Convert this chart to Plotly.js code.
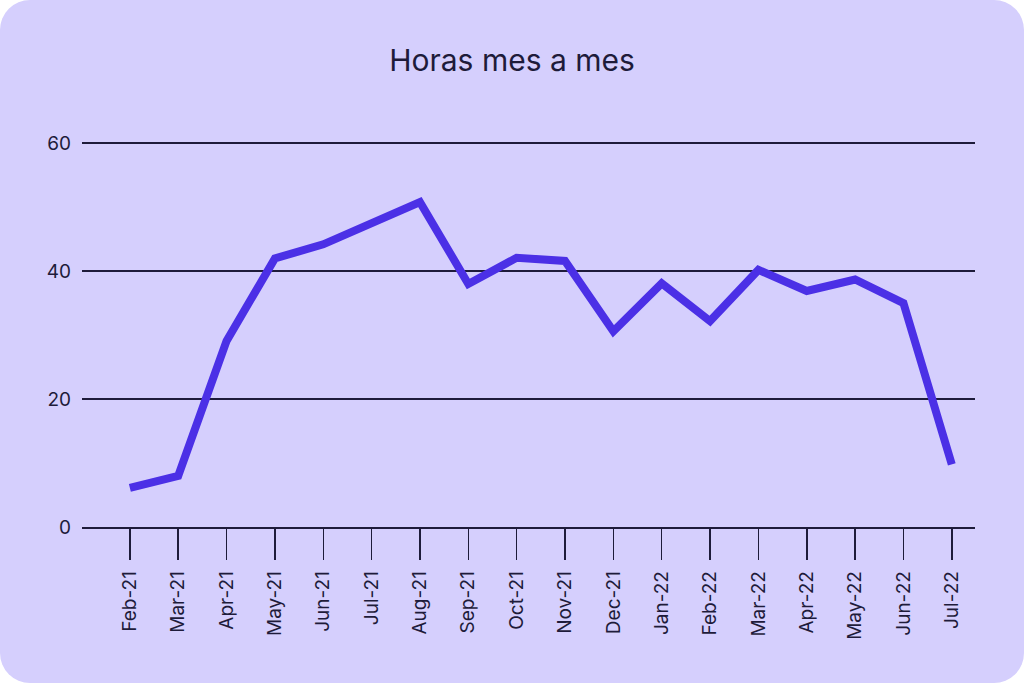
<!DOCTYPE html>
<html>
<head>
<meta charset="utf-8">
<script src="https://cdn.plot.ly/plotly-3.0.1.min.js"></script>
<style>
  html, body { margin:0; padding:0; background:#ffffff; }
  #wrap { width:1024px; height:683px; border-radius:30px; overflow:hidden; background:#d5cffd; }
  #chart { width:1024px; height:683px; }
</style>
</head>
<body>
<div id="wrap"><div id="chart"></div></div>
<script>
const months = ["Feb-21","Mar-21","Apr-21","May-21","Jun-21","Jul-21","Aug-21","Sep-21","Oct-21","Nov-21","Dec-21","Jan-22","Feb-22","Mar-22","Apr-22","May-22","Jun-22","Jul-22"];
const hours = [6.1, 8.0, 29.1, 42.0, 44.2, 47.5, 50.8, 38.0, 42.1, 41.6, 30.6, 38.1, 32.2, 40.2, 36.9, 38.7, 35.0, 9.8];
const yTicks = [0, 20, 40, 60];

const ink = "#1e1b3a";
Plotly.newPlot("chart", [{
  x: months,
  y: hours,
  type: "scatter",
  mode: "lines",
  line: { color: "#4b30e6", width: 8 },
  hoverinfo: "skip"
}], {
  width: 1024, height: 683,
  paper_bgcolor: "rgba(0,0,0,0)",
  plot_bgcolor: "rgba(0,0,0,0)",
  margin: { l: 82, r: 49, t: 142, b: 156 },
  showlegend: false,
  title: { text: "Horas mes a mes", x: 0.5, xanchor: "center", y: 0.912, yanchor: "middle",
           font: { family: "Inter, 'Open Sans', sans-serif", size: 30, color: ink } },
  font: { family: "Inter, 'Liberation Sans', sans-serif", color: ink },
  xaxis: {
    type: "category",
    range: [-0.99, 17.48],
    showgrid: false,
    showline: true, linecolor: ink, linewidth: 1.5,
    ticks: "outside", ticklen: 31, tickwidth: 1.5, tickcolor: ink,
    tickangle: -90,
    tickfont: { size: 19, family: "Inter, 'Liberation Sans', sans-serif", color: ink },
    ticklabelstandoff: 4,
    fixedrange: true
  },
  yaxis: {
    range: [0, 60.2],
    tickvals: yTicks,
    ticktext: yTicks.map(String),
    showgrid: true, gridcolor: ink, gridwidth: 1.6,
    zeroline: false,
    showline: false,
    ticks: "",
    tickfont: { size: 19, family: "Inter, 'Liberation Sans', sans-serif", color: ink },
    ticklabelstandoff: 10,
    fixedrange: true
  }
}, { displayModeBar: false, staticPlot: true });
</script>
</body>
</html>
